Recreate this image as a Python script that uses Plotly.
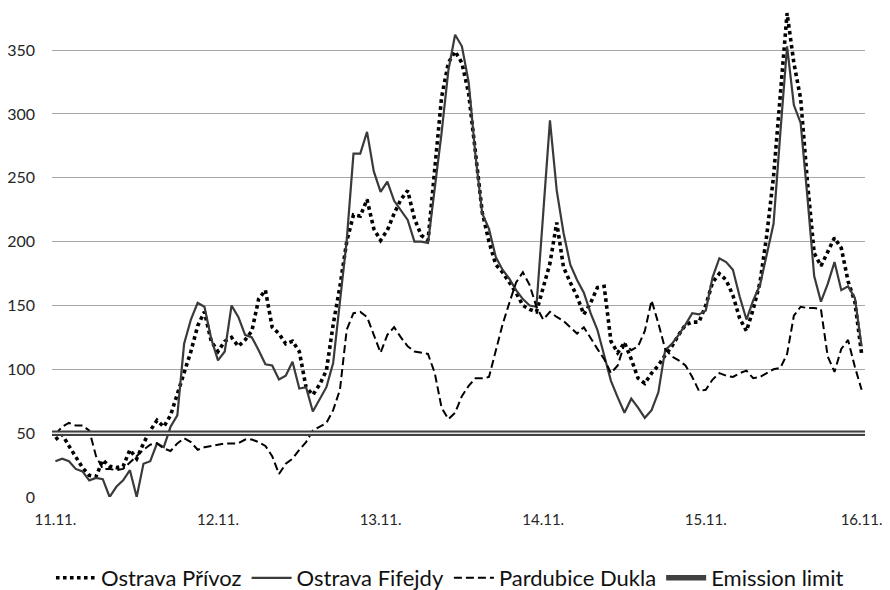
import plotly.graph_objects as go

# hourly index starting 11.11. (120 hourly values)
hours = list(range(120))
day_ticks = [0, 24, 48, 72, 96, 119]
day_labels = ["11.11.", "12.11.", "13.11.", "14.11.", "15.11.", "16.11."]
y_ticks = [0, 50, 100, 150, 200, 250, 300, 350]

ostrava_privoz = [
    45, 49, 40, 31, 23, 17, 16, 29, 24, 23,
    24, 37, 30, 42, 52, 60, 55, 64, 81, 97,
    114, 134, 145, 122, 114, 122, 125, 118, 123, 130,
    155, 162, 133, 128, 120, 122, 114, 86, 80, 88,
    99, 135, 165, 200, 221, 220, 233, 210, 201, 209,
    222, 233, 240, 218, 205, 201, 261, 313, 340, 349,
    340, 316, 270, 223, 200, 182, 176, 168, 160, 150,
    147, 145, 163, 183, 215, 180, 168, 157, 143, 152,
    164, 165, 122, 113, 121, 108, 93, 89, 97, 103,
    111, 118, 127, 135, 137, 137, 150, 168, 175, 170,
    158, 140, 130, 147, 168, 205, 251, 315, 379, 340,
    312, 247, 191, 181, 192, 203, 195, 169, 153, 112,
]

ostrava_fifejdy = [
    28, 30, 28, 22, 20, 13, 15, 14, 0, 8,
    13, 21, 0, 26, 28, 42, 39, 55, 64, 120,
    139, 152, 149, 124, 107, 114, 150, 141, 127, 125,
    115, 104, 103, 92, 95, 106, 85, 86, 67, 77,
    86, 105, 154, 201, 269, 269, 286, 255, 239, 247,
    232, 224, 217, 200, 200, 199, 240, 285, 334, 362,
    353, 325, 268, 222, 210, 188, 178, 171, 162, 155,
    150, 149, 222, 295, 240, 207, 182, 170, 160, 144,
    131, 112, 91, 78, 66, 77, 70, 62, 68, 82,
    115, 120, 127, 135, 144, 143, 146, 172, 187, 184,
    178, 157, 139, 154, 166, 190, 214, 285, 353, 307,
    293, 235, 173, 153, 167, 184, 162, 165, 156, 118,
]

pardubice_dukla = [
    49, 55, 58, 56, 56, 52, 32, 22, 22, 21,
    22, 27, 32, 37, 41, 42, 38, 36, 42, 46,
    43, 37, 39, 40, 41, 42, 42, 42, 45, 45,
    43, 40, 32, 18, 26, 30, 37, 43, 52, 55,
    58, 68, 84, 131, 144, 145, 141, 127, 113, 127,
    133, 125, 118, 114, 113, 112, 97, 70, 61, 66,
    79, 87, 93, 93, 94, 115, 135, 152, 168, 176,
    166, 149, 139, 145, 141, 138, 133, 128, 133, 124,
    116, 108, 97, 103, 120, 115, 118, 130, 154, 136,
    116, 110, 107, 103, 94, 83, 84, 92, 97, 95,
    94, 97, 99, 93, 94, 97, 100, 101, 112, 142,
    149, 148, 148, 147, 110, 98, 116, 123, 102, 84,
]

emission_limit = 50

FONT = "Lato"
TXT = "#262626"

fig = go.Figure()

limit_x = [hours[0] - 0.5, hours[-1] + 0.5]

fig.add_trace(go.Scatter(
    x=hours, y=ostrava_privoz, mode="lines", name="Ostrava Přívoz",
    line=dict(color="#000000", width=3.6, dash="3.6px,3.4px"),
))
fig.add_trace(go.Scatter(
    x=hours, y=ostrava_fifejdy, mode="lines", name="Ostrava Fifejdy",
    line=dict(color="#3a3a3a", width=2.2),
))
fig.add_trace(go.Scatter(
    x=hours, y=pardubice_dukla, mode="lines", name="Pardubice Dukla",
    line=dict(color="#000000", width=2.0, dash="8px,4px"),
))
fig.add_trace(go.Scatter(
    x=limit_x, y=[emission_limit, emission_limit], mode="lines",
    name="Emission limit", line=dict(color="#404040", width=5.5),
))
fig.add_trace(go.Scatter(
    x=limit_x, y=[emission_limit, emission_limit], mode="lines",
    showlegend=False, hoverinfo="skip", line=dict(color="#e6e6e6", width=1.5),
))

# page has an 8px body margin: figure is 882x582, placed at (8, 8)
fig.update_layout(
    width=882, height=582,
    margin=dict(l=44, r=25, t=0, b=93, autoexpand=False),
    paper_bgcolor="white", plot_bgcolor="white",
    font=dict(family=FONT, color=TXT, size=16),
    showlegend=True,
    legend=dict(
        orientation="h", x=0.4895, xanchor="center", y=-0.1656, yanchor="middle",
        font=dict(family=FONT, size=22, color="#111111"),
        itemwidth=40, tracegroupgap=0,
    ),
    xaxis=dict(
        range=[-0.5, 119.5], tickmode="array", tickvals=day_ticks, ticktext=day_labels,
        showgrid=False, zeroline=False, showline=False, ticks="", automargin=False,
        tickfont=dict(family=FONT, size=15, color=TXT), ticklabelstandoff=12,
    ),
    yaxis=dict(
        range=[0, 383], tickmode="array", tickvals=y_ticks,
        showgrid=True, gridcolor="#a8a8a8", gridwidth=1, automargin=False,
        zeroline=False, showline=False, ticks="",
        tickfont=dict(family=FONT, size=16, color=TXT), ticklabelstandoff=16,
    ),
)

fig.write_html("out.html")
